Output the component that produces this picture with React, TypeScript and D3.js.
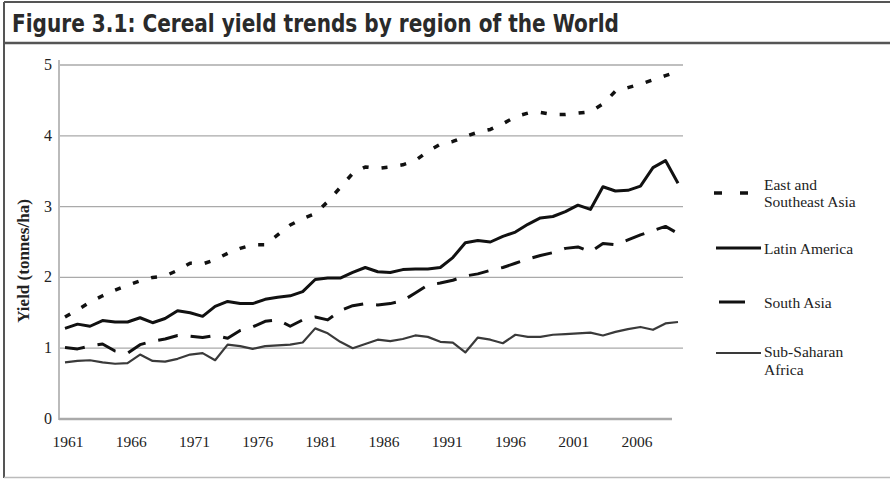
import React from "react";
import * as d3 from "d3";

const years: number[] = d3.range(1961, 2011);

const eastSoutheastAsia = [
  1.44, 1.54, 1.65, 1.74, 1.82, 1.89, 1.95, 2.0, 2.02, 2.1,
  2.2, 2.19, 2.25, 2.34, 2.41, 2.46, 2.46, 2.6, 2.74, 2.83,
  2.9, 3.07, 3.27, 3.47, 3.56, 3.54, 3.56, 3.59, 3.65, 3.78,
  3.88, 3.92, 3.99, 4.05, 4.09, 4.17, 4.27, 4.32, 4.33, 4.3,
  4.3, 4.32, 4.34, 4.45, 4.63, 4.68, 4.73, 4.79, 4.85, 4.91,
];

const latinAmerica = [
  1.28, 1.34, 1.31, 1.39, 1.37, 1.37, 1.43, 1.36, 1.42, 1.53,
  1.5, 1.45, 1.59, 1.66, 1.63, 1.63, 1.69, 1.72, 1.74, 1.8,
  1.97, 1.99, 1.99, 2.07, 2.14, 2.08, 2.07, 2.11, 2.12, 2.12,
  2.14, 2.28, 2.49, 2.52, 2.5, 2.58, 2.64, 2.75, 2.84, 2.86,
  2.93, 3.02, 2.96, 3.28, 3.22, 3.23, 3.29, 3.55, 3.65, 3.33,
];

const southAsia = [
  1.01, 0.99, 1.03, 1.06, 0.96, 0.93, 1.05, 1.1, 1.13, 1.18,
  1.17, 1.15, 1.18, 1.14, 1.25, 1.3, 1.38, 1.4, 1.31, 1.4,
  1.44, 1.4, 1.53, 1.6, 1.63, 1.61, 1.63, 1.67, 1.78, 1.89,
  1.92, 1.96, 2.02, 2.05, 2.1, 2.14, 2.2, 2.26, 2.31, 2.35,
  2.41, 2.43, 2.36, 2.48, 2.46, 2.53, 2.6, 2.66, 2.72, 2.62,
];

const subSaharanAfrica = [
  0.8, 0.82, 0.83, 0.8, 0.78, 0.79, 0.91, 0.82, 0.81, 0.85,
  0.91, 0.93, 0.83, 1.05, 1.03, 0.99, 1.03, 1.04, 1.05, 1.08,
  1.28, 1.21, 1.09, 1.0, 1.06, 1.12, 1.1, 1.13, 1.18, 1.16,
  1.09, 1.08, 0.94, 1.15, 1.12, 1.07, 1.19, 1.16, 1.16, 1.19,
  1.2, 1.21, 1.22, 1.18, 1.23, 1.27, 1.3, 1.26, 1.35, 1.37,
];

const xTickYears = [1961, 1966, 1971, 1976, 1981, 1986, 1991, 1996, 2001, 2006];
const yTicks = [0, 1, 2, 3, 4, 5];

const titleText = "Figure 3.1: Cereal yield trends by region of the World";
const yAxisLabel = "Yield (tonnes/ha)";

type Style = { dash: string | null; width: number; color: string };

const seriesList: { name: string[]; values: number[]; style: Style }[] = [
  { name: ["East and", "Southeast Asia"], values: eastSoutheastAsia, style: { dash: "6,13", width: 3.5, color: "#111" } },
  { name: ["Latin America"], values: latinAmerica, style: { dash: null, width: 3, color: "#111" } },
  { name: ["South Asia"], values: southAsia, style: { dash: "20,13", width: 3, color: "#111" } },
  { name: ["Sub-Saharan", "Africa"], values: subSaharanAfrica, style: { dash: null, width: 2.2, color: "#3a3a3a" } },
];

export default function App() {
  const W = 890;
  const H = 479;
  const x = d3.scaleLinear().domain([1961, 2010]).range([65, 678]);
  const xLab = d3.scaleLinear().domain([1961, 2006]).range([68, 637]);
  const y = d3.scaleLinear().domain([0, 5]).range([419, 65]);
  const line = d3
    .line<number>()
    .x((_, i) => x(years[i]))
    .y((d) => y(d));

  const serif = "'Liberation Serif', 'DejaVu Serif', serif";

  const legendY = [193, 248, 302, 353];
  const legendTextY = [[189.5, 207], [253.5], [307.5], [357, 374.5]];

  return (
    <svg
      width={W}
      height={H}
      style={{ position: "absolute", left: 0, top: 0, background: "#fff" }}
    >
      <rect x={0} y={0} width={W} height={H} fill="#fff" />
      {/* frame */}
      <line x1={4} x2={W} y1={2} y2={2} stroke="#555" strokeWidth={2} />
      <line x1={4} x2={4} y1={2} y2={478} stroke="#555" strokeWidth={2} />
      <line x1={4} x2={W} y1={43} y2={43} stroke="#555" strokeWidth={2.5} />
      <line x1={4} x2={W} y1={477.5} y2={477.5} stroke="#bbb" strokeWidth={1.5} />
      <text
        x={12}
        y={32}
        fontFamily="'DejaVu Sans Condensed', 'DejaVu Sans', sans-serif"
        fontWeight="bold"
        fontSize={24}
        fill="#2a2a2a"
        textLength={607}
        lengthAdjust="spacingAndGlyphs"
      >
        {titleText}
      </text>

      {/* grid */}
      {yTicks
        .filter((t) => t > 0)
        .map((t) => (
          <line key={t} x1={59} x2={683} y1={y(t)} y2={y(t)} stroke="#aaa" strokeWidth={1.3} />
        ))}
      <line x1={59} x2={59} y1={60} y2={420} stroke="#bbb" strokeWidth={2} />
      <line x1={59} x2={672} y1={y(0)} y2={y(0)} stroke="#aaa" strokeWidth={2.5} />

      {/* y ticks */}
      {yTicks.map((t) => (
        <text key={t} x={48} y={y(t) + 5} textAnchor="middle" fontFamily={serif} fontSize={16} fill="#222">
          {t}
        </text>
      ))}
      {/* x ticks */}
      {xTickYears.map((t) => (
        <text key={t} x={xLab(t)} y={447} textAnchor="middle" fontFamily={serif} fontSize={15.5} fill="#222">
          {t}
        </text>
      ))}
      <text
        transform={`translate(29, 261) rotate(-90)`}
        textAnchor="middle"
        fontFamily={serif}
        fontWeight="bold"
        fontSize={17}
        fill="#222"
      >
        {yAxisLabel}
      </text>

      {/* lines */}
      {seriesList.map((s, i) => (
        <path
          key={i}
          d={line(s.values) || ""}
          fill="none"
          stroke={s.style.color}
          strokeWidth={s.style.width}
          strokeDasharray={s.style.dash || undefined}
          strokeLinejoin="round"
        />
      ))}

      {/* legend */}
      {seriesList.map((s, i) => (
        <g key={i}>
          {i === 0 ? (
            <>
              <line x1={714} x2={722} y1={legendY[i]} y2={legendY[i]} stroke="#111" strokeWidth={3.5} />
              <line x1={740} x2={748} y1={legendY[i]} y2={legendY[i]} stroke="#111" strokeWidth={3.5} />
            </>
          ) : i === 2 ? (
            <line x1={719} x2={745} y1={legendY[i]} y2={legendY[i]} stroke="#111" strokeWidth={3} />
          ) : (
            <line x1={716} x2={761} y1={legendY[i]} y2={legendY[i]} stroke={s.style.color} strokeWidth={s.style.width} />
          )}
          {s.name.map((n, j) => (
            <text key={j} x={764} y={legendTextY[i][j]} fontFamily={serif} fontSize={15.5} fill="#222">
              {n}
            </text>
          ))}
        </g>
      ))}
    </svg>
  );
}
